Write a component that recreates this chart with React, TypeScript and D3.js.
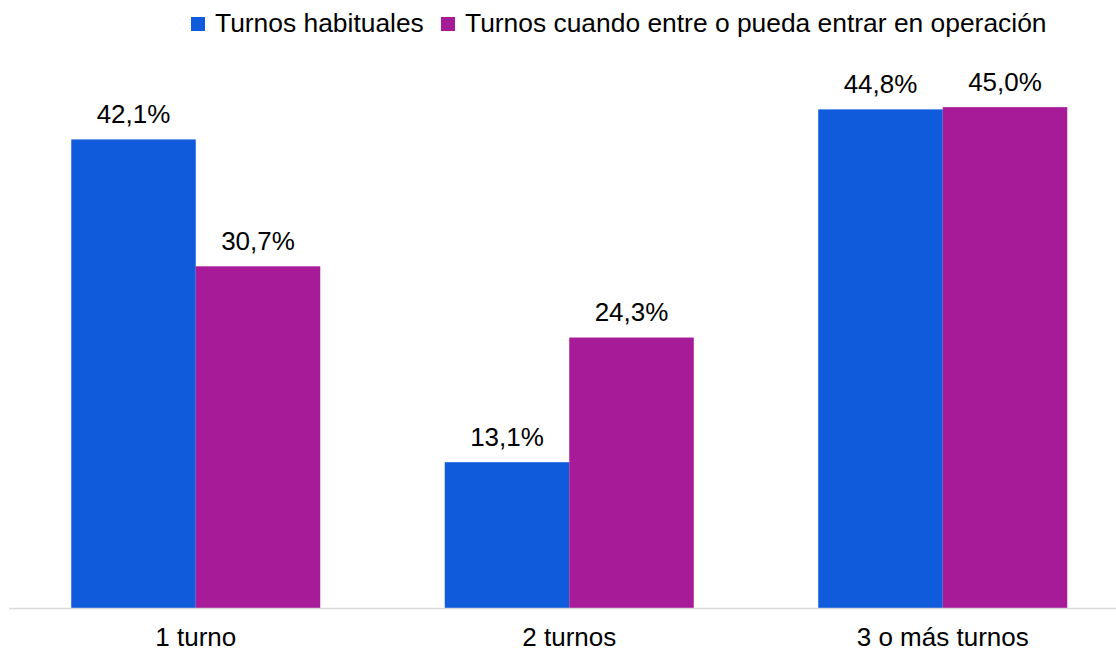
import React from "react";
import * as d3 from "d3";

const categories = ["1 turno", "2 turnos", "3 o más turnos"];
const seriesNames = ["Turnos habituales", "Turnos cuando entre o pueda entrar en operación"];
const habituales = [42.1, 13.1, 44.8];
const cuandoEntre = [30.7, 24.3, 45.0];
const colors = ["#0F5BDC", "#A71A98"];

const W = 1116;
const H = 651;
const FONT = "'Liberation Sans', Arial, sans-serif";

export default function App() {
  const x0 = d3.scaleBand<string>().domain(categories).range([9, 1129.5]).paddingInner(1 / 3).paddingOuter(1 / 6);
  const x1 = d3.scaleBand<string>().domain(seriesNames).range([0, x0.bandwidth()]);
  const y = d3.scaleLinear().domain([0, 50]).range([608, 51.5]);
  const series = [habituales, cuandoEntre];
  const fmt = (v: number) => v.toFixed(1).replace(".", ",") + "%";

  return (
    <svg width={W} height={H} style={{ position: "absolute", left: 0, top: 0, background: "#fff" }} fontFamily={FONT}>
      <rect x={0} y={0} width={W} height={H} fill="#fff" />
      {categories.map((c, ci) =>
        seriesNames.map((s, si) => {
          const v = series[si][ci];
          const bx = (x0(c) ?? 0) + (x1(s) ?? 0);
          return (
            <g key={c + s}>
              <rect x={bx} y={y(v)} width={x1.bandwidth()} height={y(0) - y(v)} fill={colors[si]} />
              <text x={bx + x1.bandwidth() / 2} y={y(v) - 16.5} textAnchor="middle" fontSize={26} fill="#000">
                {fmt(v)}
              </text>
            </g>
          );
        })
      )}
      <line x1={9} x2={W} y1={608.5} y2={608.5} stroke="#d9d9d9" strokeWidth={1.5} />
      {categories.map((c) => (
        <text key={c} x={(x0(c) ?? 0) + x0.bandwidth() / 2} y={645.5} textAnchor="middle" fontSize={26} fill="#000">
          {c}
        </text>
      ))}
      <g>
        <rect x={191} y={17} width={14} height={14} fill={colors[0]} />
        <text x={215} y={31.5} fontSize={26.4} fill="#000">{seriesNames[0]}</text>
        <rect x={441} y={17} width={14} height={14} fill={colors[1]} />
        <text x={465} y={31.5} fontSize={26.4} fill="#000">{seriesNames[1]}</text>
      </g>
    </svg>
  );
}
